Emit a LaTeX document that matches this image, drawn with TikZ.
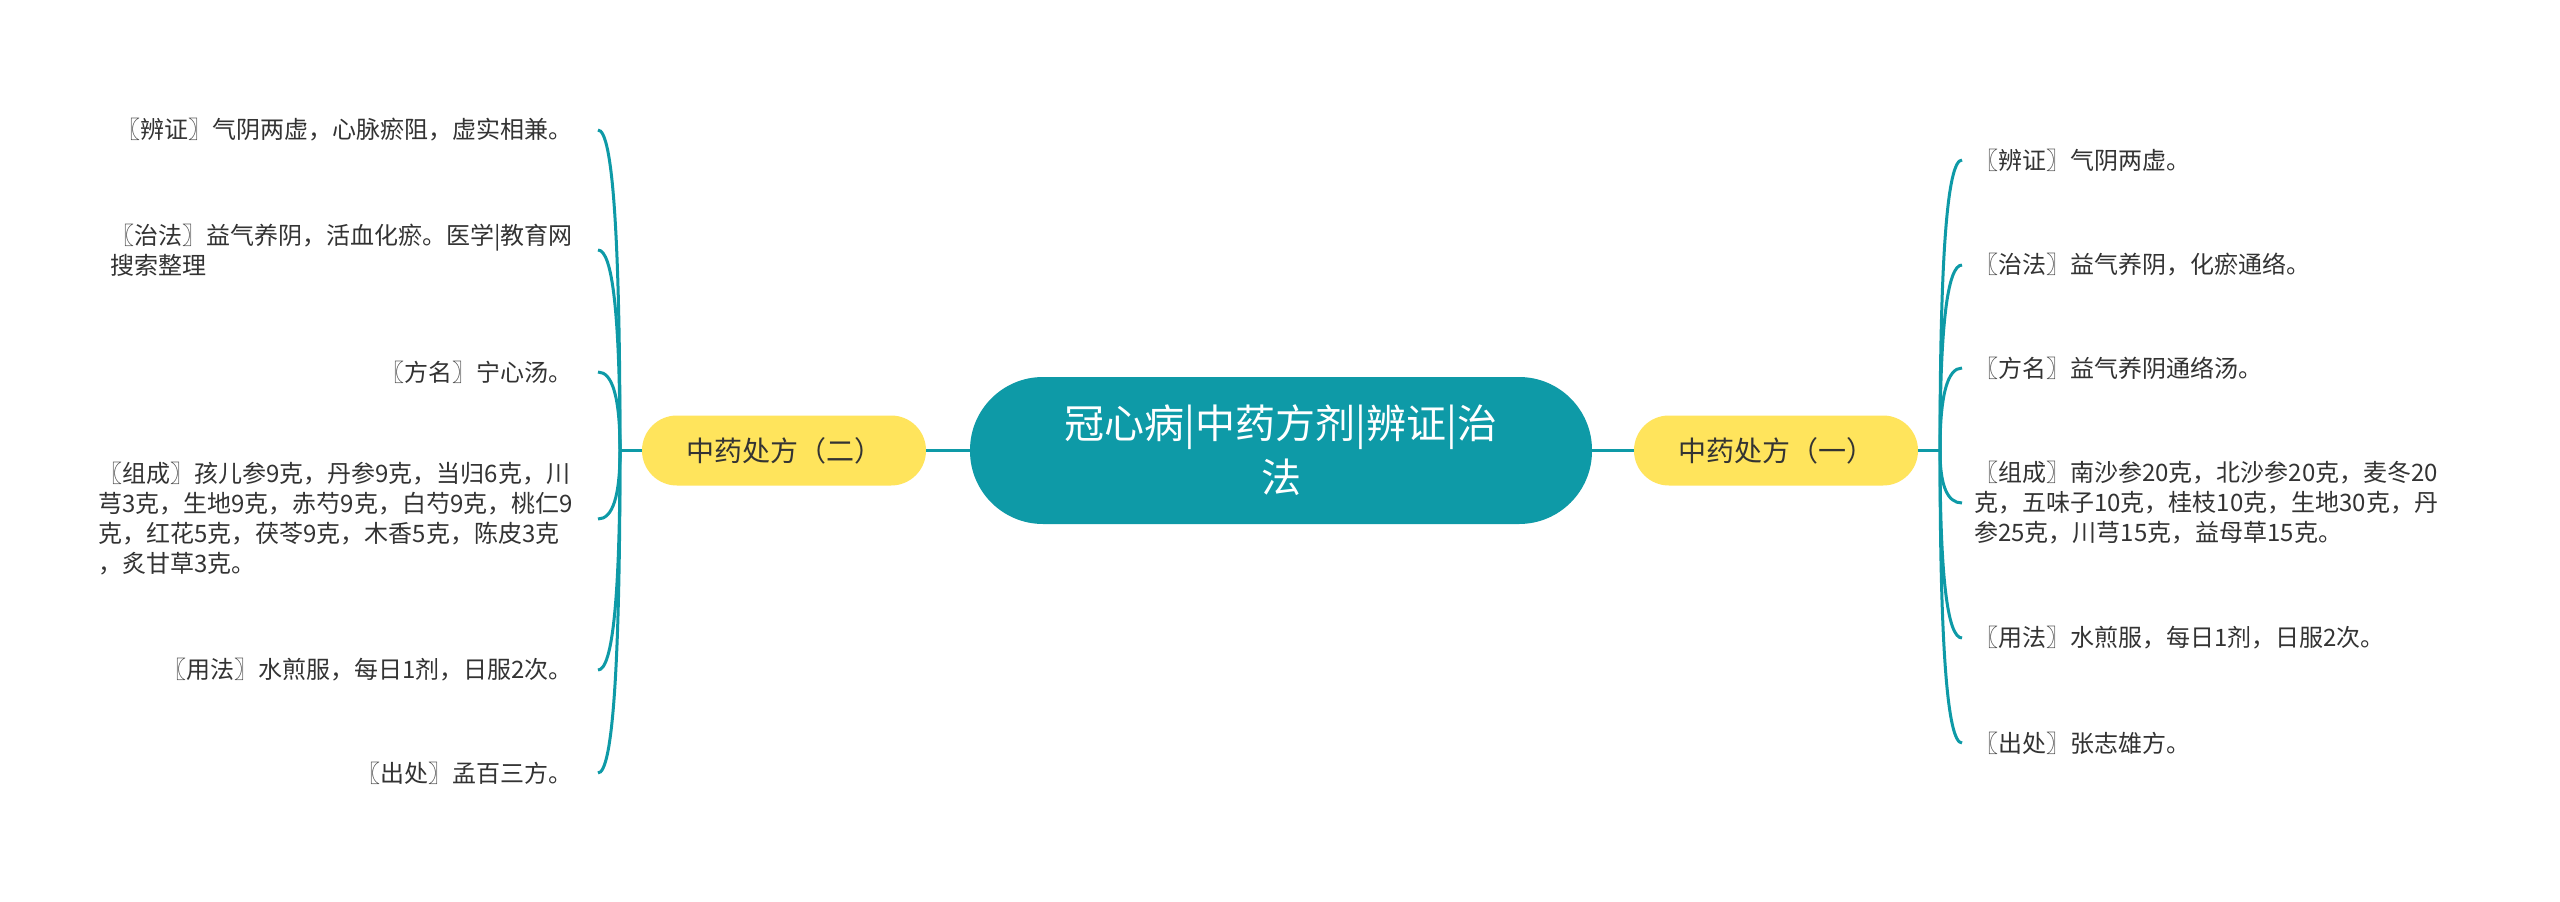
\documentclass[tikz,border=0pt]{standalone}
\usepackage{fontspec}
\setmainfont{Noto Sans CJK SC}
\usetikzlibrary{calc}
\definecolor{teal1}{HTML}{0E9AA7}
\definecolor{yel1}{HTML}{FFE45C}
\definecolor{txt1}{HTML}{333333}
\tikzset{
  branch/.style={draw=teal1, line width=3pt},
  rootbox/.style={fill=teal1, rounded corners=73pt, minimum width=622pt, minimum height=147pt, text=white, align=center, font=\fontsize{40}{54}\selectfont, inner sep=0pt},
  subbox/.style={fill=yel1, rounded corners=34.9pt, minimum width=284pt, minimum height=70pt, text=txt1, font=\fontsize{28}{34}\selectfont, inner sep=0pt},
  rleaf/.style={anchor=west, align=left, inner xsep=12pt, inner ysep=0pt, text=txt1, font=\fontsize{24}{30}\selectfont},
  lleaf/.style={anchor=east, align=left, inner xsep=25pt, inner ysep=0pt, text=txt1, font=\fontsize{24}{30}\selectfont}
}
\begin{document}
\begin{tikzpicture}[x=1pt, y=-1pt]
\useasboundingbox[fill=white] (0,0) rectangle (2560,902);
% central and main branches
\node[rootbox] (root) at (1281,450.5) {冠心病|中药方剂|辨证|治\\法};
\node[subbox] (ly) at (784,450.5) {中药处方（二）};
\node[subbox] (ry) at (1776,450.5) {中药处方（一）};
\coordinate (ls) at (620,450.5);
\coordinate (rs) at (1940,450.5);
% right leaves
\node[rleaf] (R1) at (1962,160) {〖辨证〗气阴两虚。};
\node[rleaf] (R2) at (1962,265) {〖治法〗益气养阴，化瘀通络。};
\node[rleaf] (R3) at (1962,368) {〖方名〗益气养阴通络汤。};
\node[rleaf] (R4) at (1962,503) {〖组成〗南沙参20克，北沙参20克，麦冬20\\克，五味子10克，桂枝10克，生地30克，丹\\参25克，川芎15克，益母草15克。};
\node[rleaf] (R5) at (1962,638) {〖用法〗水煎服，每日1剂，日服2次。};
\node[rleaf] (R6) at (1962,743) {〖出处〗张志雄方。};
% left leaves
\node[lleaf] (L1) at (598,130) {〖辨证〗气阴两虚，心脉瘀阻，虚实相兼。};
\node[lleaf] (L2) at (598,250) {〖治法〗益气养阴，活血化瘀。医学|教育网\\搜索整理};
\node[lleaf] (L3) at (598,372) {〖方名〗宁心汤。};
\node[lleaf] (L4) at (598,519) {〖组成〗孩儿参9克，丹参9克，当归6克，川\\芎3克，生地9克，赤芍9克，白芍9克，桃仁9\\克，红花5克，茯苓9克，木香5克，陈皮3克\\，炙甘草3克。};
\node[lleaf] (L5) at (598,670) {〖用法〗水煎服，每日1剂，日服2次。};
\node[lleaf] (L6) at (598,773) {〖出处〗孟百三方。};
% connectors
\draw[branch] (root.west) -- (ly.east);
\draw[branch] (root.east) -- (ry.west);
\draw[branch] (ly.west) -- (ls);
\draw[branch] (ry.east) -- (rs);
\foreach \n in {R1,R2,R3,R4,R5,R6}{
  \coordinate (k) at (rs |- \n.west);
  \draw[branch] (rs) .. controls ($(rs)!0.667!(k)$) and ($(\n.west)!0.667!(k)$) .. (\n.west);
}
\foreach \n in {L1,L2,L3,L4,L5,L6}{
  \coordinate (k) at (ls |- \n.east);
  \draw[branch] (ls) .. controls ($(ls)!0.667!(k)$) and ($(\n.east)!0.667!(k)$) .. (\n.east);
}
\end{tikzpicture}
\end{document}
